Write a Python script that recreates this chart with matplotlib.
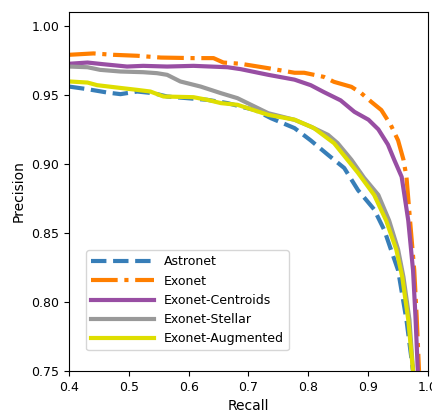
import matplotlib
matplotlib.use('Agg')
import matplotlib.pyplot as plt

labels = ['Astronet', 'Exonet', 'Exonet-Centroids', 'Exonet-Stellar', 'Exonet-Augmented']

astronetRecall = [0.400, 0.431, 0.4635, 0.486, 0.514, 0.541, 0.564, 0.5975, 0.631, 0.665, 0.687, 0.711,
                  0.738, 0.777, 0.804, 0.833, 0.860, 0.883, 0.910, 0.927, 0.938, 0.950, 0.964, 0.975]
astronetPrecision = [0.956, 0.9541, 0.9517, 0.9505, 0.9524, 0.9512, 0.9488, 0.9476, 0.9464, 0.944, 0.9415, 0.939,
                     0.933, 0.9259, 0.917, 0.9065, 0.897, 0.881, 0.867, 0.852, 0.838, 0.823, 0.787, 0.75]

exonetRecall = [0.400, 0.441, 0.474, 0.514, 0.5535, 0.608, 0.6415, 0.658, 0.687, 0.733, 0.777, 0.793, 0.826,
                0.843, 0.872, 0.888, 0.905, 0.922, 0.938, 0.950, 0.959, 0.964, 0.970, 0.977, 0.981, 0.985]
exonetPrecision = [0.979, 0.980, 0.979, 0.9783, 0.977, 0.9766, 0.9766, 0.9734, 0.9725, 0.9693, 0.966, 0.966, 0.963,
                   0.9594, 0.9558, 0.9514, 0.945, 0.939, 0.928, 0.917, 0.903, 0.8906, 0.859, 0.823, 0.79, 0.75]

centroidsRecall = [0.400, 0.431, 0.457, 0.497, 0.524, 0.564, 0.608, 0.665, 0.687, 0.733, 0.777, 0.804,
                   0.826, 0.854, 0.877, 0.9005, 0.917, 0.933, 0.9435, 0.956, 0.967, 0.975, 0.979, 0.983]
centroidsPrecision = [0.9725, 0.9734, 0.9722, 0.9705, 0.971, 0.9705, 0.971, 0.970, 0.9686, 0.9645, 0.961, 0.957,
                      0.952, 0.946, 0.9377, 0.932, 0.925, 0.914, 0.903, 0.8906, 0.859, 0.823, 0.79, 0.75]

stellarRecall = [0.400, 0.431, 0.452, 0.486, 0.524, 0.547, 0.564, 0.586, 0.620, 0.654, 0.6815, 0.733,
                 0.777, 0.804, 0.833, 0.849, 0.872, 0.893, 0.917, 0.935, 0.950, 0.959, 0.969, 0.975]
stellarPrecision = [0.9705, 0.970, 0.9681, 0.9669, 0.9664, 0.9657, 0.9645, 0.9597, 0.956, 0.9512, 0.9476, 0.9367,
                    0.9319, 0.927, 0.921, 0.915, 0.903, 0.890, 0.8775, 0.859, 0.838, 0.818, 0.787, 0.75]

augmentedRecall = [0.400, 0.431, 0.447, 0.486, 0.514, 0.536, 0.558, 0.608, 0.631, 0.654, 0.6815, 0.733,
                   0.777, 0.809, 0.843, 0.883, 0.910, 0.930, 0.947, 0.957, 0.967, 0.975]
augmentedPrecision = [0.9597, 0.9589, 0.957, 0.955, 0.9536, 0.9524, 0.9488, 0.9483, 0.9464, 0.944, 0.9428, 0.9355,
                      0.932, 0.926, 0.915, 0.8935, 0.8775, 0.859, 0.838, 0.818, 0.787, 0.75]

plt.rcParams['font.size'] = 9

fig = plt.figure(figsize=(4.32, 4.11), dpi=100)
ax = fig.add_axes([69 / 432, 40 / 411, 359 / 432, 359 / 411])

ax.plot(astronetRecall, astronetPrecision, '--', color='#377eb8', lw=3, label=labels[0])
ax.plot(exonetRecall, exonetPrecision, '-.', color='#ff7f00', lw=3, label=labels[1])
ax.plot(centroidsRecall, centroidsPrecision, '-', color='#984ea3', lw=3, label=labels[2])
ax.plot(stellarRecall, stellarPrecision, '-', color='#999999', lw=3, label=labels[3])
ax.plot(augmentedRecall, augmentedPrecision, '-', color='#dede00', lw=3, label=labels[4])

ax.set_xlim(0.4, 1.0)
ax.set_ylim(0.75, 1.01)
ax.set_xticks([0.4, 0.5, 0.6, 0.7, 0.8, 0.9, 1.0])
ax.set_yticks([0.75, 0.80, 0.85, 0.90, 0.95, 1.00])
ax.set_xlabel('Recall', fontsize=10)
ax.set_ylabel('Precision', fontsize=10)
ax.legend(loc='lower left', bbox_to_anchor=(0.03, 0.04), handlelength=5, fontsize=9)

fig.savefig('out.png', dpi=100)
